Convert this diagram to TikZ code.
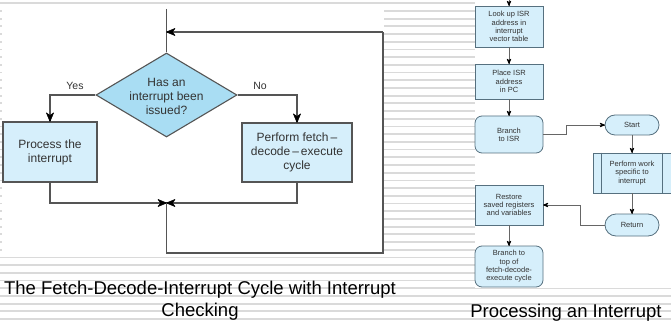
\documentclass[tikz,border=0pt]{standalone}
\usepackage{fontspec}
\setmainfont{Liberation Sans}
\usetikzlibrary{shapes.geometric,decorations.markings}
\definecolor{ruleline}{HTML}{DADADA}
\definecolor{boxfill}{HTML}{D6EFFB}
\definecolor{decfill}{HTML}{A9DDF3}
\definecolor{edgegray}{HTML}{555555}
\definecolor{rbord}{HTML}{56707F}
\definecolor{txt}{HTML}{333333}
\tikzset{
  flowbox/.style={draw=edgegray, line width=1.1pt, fill=boxfill, inner sep=0pt,
    align=center, text=txt, font=\fontsize{12}{14}\selectfont},
  flowline/.style={draw=edgegray, line width=1.1pt},
  % filled and outlined barbed head placed at the end of the path
  headmark/.style={decoration={markings, mark=at position 1 with
      {\filldraw[black, line width=0.6pt, line join=round]
        (0,0) -- (-#1,0.42*#1) -- (-0.7*#1,0) -- (-#1,-0.42*#1) -- cycle;}},
    postaction=decorate},
  flowarr/.style={flowline, headmark=8.5pt},
  smallbox/.style={draw=rbord, line width=0.8pt, fill=boxfill, inner sep=0pt,
    align=center, text=txt, font=\fontsize{7.5}{8.3}\selectfont},
  smallline/.style={draw=edgegray!90, line width=0.8pt},
  smallarr/.style={smallline, headmark=4.5pt},
  caption/.style={font=\fontsize{18.5}{22}\selectfont, align=center, text=black},
  branchlabel/.style={font=\fontsize{10.5}{12}\selectfont, text=txt}
}
\begin{document}
\begin{tikzpicture}[x=1pt,y=1pt]
\useasboundingbox (0,0) rectangle (671,-323);
% ruled background
\foreach \k in {0,...,41}
  \draw[ruleline, line width=1.8pt] (0,{-3.3-7.7*\k}) -- (671,{-3.3-7.7*\k});
\fill[white] (1.5,-9) rectangle (384,-257);
\fill[white] (475,0) rectangle (671,-288);

% ---------- fetch-decode-interrupt cycle ----------
\node[diamond, draw=edgegray, line width=1.1pt, fill=decfill, inner sep=0pt,
      minimum width=141pt, minimum height=84pt] (dec) at (166.5,-95) {};
\node[align=center, text=txt, font=\fontsize{12}{14}\selectfont] (dectext) at (166.5,-96)
  {Has an\\interrupt been\\issued?};
\node[flowbox, minimum width=94pt, minimum height=60pt] (proc) at (50,-152)
  {Process the\\interrupt};
\node[flowbox, minimum width=110pt, minimum height=59pt] (fde) at (297,-152.5)
  {Perform fetch\,--\\decode\,--\,execute\\cycle};
\node[branchlabel] (yes) at (75,-86) {Yes};
\node[branchlabel] (no) at (260,-86) {No};

\coordinate (topin) at (166.5,-9);
\coordinate (merge) at (166.5,-203);
\coordinate (loopdown) at (166.5,-253);
\coordinate (loopcorner) at (383,-253);
\coordinate (loopup) at (383,-32);
\coordinate (loopin) at (166.5,-32);

\draw[flowline] (topin) -- (dec.north);
\draw[flowarr] (dec.west) -| (proc.north);
\draw[flowarr] (dec.east) -| (fde.north);
\draw[flowarr] (proc.south) |- (merge);
\draw[flowarr] (fde.south) |- (merge);
\draw[flowline] (merge) -- (loopdown) -- (loopcorner) -- (loopup);
\draw[flowarr] (loopup) -- (loopin);

\node[caption] (cap1) at (200,-301)
  {The Fetch-Decode-Interrupt Cycle with Interrupt\\Checking};

% ---------- processing an interrupt ----------
\node[smallbox, minimum width=68pt, minimum height=41pt] (look) at (509,-26.5)
  {Look up ISR\\address in\\interrupt\\vector table};
\node[smallbox, minimum width=68pt, minimum height=35pt] (place) at (509,-81.5)
  {Place ISR\\address\\in PC};
\node[smallbox, rounded corners=7pt, minimum width=68pt, minimum height=37pt] (branch) at (509,-134.5)
  {Branch\\to ISR};
\node[smallbox, rounded corners=10pt, minimum width=54pt, minimum height=20pt] (start) at (632,-125)
  {Start};
\node[smallbox, minimum width=78pt, minimum height=40pt] (work) at (632,-173)
  {Perform work\\specific to\\interrupt};
\draw[rbord, line width=0.8pt] ([xshift=9pt]work.north west) -- ([xshift=9pt]work.south west);
\draw[rbord, line width=0.8pt] ([xshift=-9pt]work.north east) -- ([xshift=-9pt]work.south east);
\node[smallbox, rounded corners=11pt, minimum width=54pt, minimum height=22pt] (ret) at (632,-225)
  {Return};
\node[smallbox, minimum width=68pt, minimum height=40pt] (restore) at (509,-205)
  {Restore\\saved registers\\and variables};
\node[smallbox, rounded corners=7pt, minimum width=68pt, minimum height=41pt] (back) at (509,-266.5)
  {Branch to\\top of\\fetch-decode-\\execute cycle};

\coordinate (rtop) at (509,0);
\draw[smallarr] (rtop) -- (look.north);
\draw[smallarr] (look.south) -- (place.north);
\draw[smallarr] (place.south) -- (branch.north);
\draw[smallarr] (branch.east) -- ++(23,0) |- (start.west);
\draw[smallarr] (start.south) -- (work.north);
\draw[smallarr] (work.south) -- (ret.north);
\draw[smallarr] (ret.west) -- ++(-24,0) |- (restore.east);
\draw[smallarr] (restore.south) -- (back.north);

\node[caption] (cap2) at (566,-313) {Processing an Interrupt};
\end{tikzpicture}
\end{document}
